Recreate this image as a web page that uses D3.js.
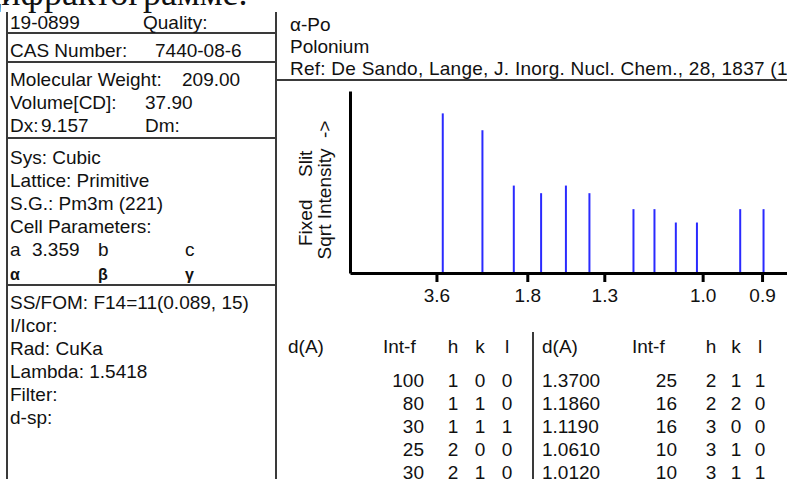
<!DOCTYPE html>
<html><head><meta charset="utf-8">
<script src="https://cdn.jsdelivr.net/npm/d3@7"></script>
<style>
body{margin:0;background:#fff;overflow:hidden}
svg{display:block}
text{font-family:"Liberation Sans",Arial,sans-serif;fill:#111}
</style></head>
<body><svg id="c" width="787" height="479"></svg>
<script>
// ---- data ----
const headerCaption = "дифрактограмме.";
const cardNumber = "19-0899";
const casNumber = "7440-08-6";
const molWeight = "209.00";
const volumeCD = "37.90";
const dx = "9.157";
const symmetryLines = ["Sys: Cubic", "Lattice: Primitive", "S.G.: Pm3m (221)", "Cell Parameters:"];
const cellA = "3.359";
const expLines = ["SS/FOM: F14=11(0.089, 15)", "I/Icor:", "Rad: CuKa", "Lambda: 1.5418", "Filter:", "d-sp:"];
const titleLines = ["α-Po", "Polonium", "Ref: De Sando, Lange, J. Inorg. Nucl. Chem., 28, 1837 (1966)"];
const wavelength = 1.5418;
const dSpacing = [3.359, 2.375, 1.939, 1.679, 1.502, 1.370, 1.186, 1.119, 1.061, 1.012, 0.932, 0.898];
const intensity = [100, 80, 30, 25, 30, 25, 16, 16, 10, 10, 16, 16];
const tickD = [3.6, 1.8, 1.3, 1.0, 0.9];
const tickLabels = ["3.6", "1.8", "1.3", "1.0", "0.9"];
const tableLeftD = ["", "", "", "", ""];
const tableLeftI = [100, 80, 30, 25, 30];
const tableLeftHKL = [[1,0,0],[1,1,0],[1,1,1],[2,0,0],[2,1,0]];
const tableRightD = ["1.3700", "1.1860", "1.1190", "1.0610", "1.0120"];
const tableRightI = [25, 16, 16, 10, 10];
const tableRightHKL = [[2,1,1],[2,2,0],[3,0,0],[3,1,0],[3,1,1]];

// ---- drawing ----
const svg = d3.select("#c");
const lineCol = "#3a3a3a";
const fs = 19;

// clipped caption at very top
svg.append("text").attr("x", -17).attr("y", 5)
  .style("font-family", "'Liberation Serif','Times New Roman',serif")
  .style("font-size", "36px").text(headerCaption);

// frame lines
const hl = (x1, x2, y) => svg.append("line").attr("x1", x1).attr("x2", x2).attr("y1", y).attr("y2", y)
  .attr("stroke", lineCol).attr("stroke-width", 2);
const vl = (x, y1, y2) => svg.append("line").attr("x1", x).attr("x2", x).attr("y1", y1).attr("y2", y2)
  .attr("stroke", lineCol).attr("stroke-width", 2);
vl(7, 12, 479);
vl(276, 12, 479);
[33, 62, 138, 285].forEach(y => hl(7, 276, y));
hl(276, 787, 80);
vl(533, 332, 479);

const t = (x, y, s, opts = {}) => {
  const e = svg.append("text").attr("x", x).attr("y", y).style("font-size", (opts.size || fs) + "px").text(s);
  if (opts.anchor) e.attr("text-anchor", opts.anchor);
  if (opts.weight) e.style("font-weight", opts.weight);
  if (opts.ls) e.style("letter-spacing", opts.ls + "px");
  return e;
};

// left panel
t(10, 29, cardNumber); t(143, 29, "Quality:");
t(10, 57, "CAS Number:"); t(155, 57, casNumber);
t(10, 86, "Molecular Weight:"); t(182, 86, molWeight);
t(10, 109, "Volume[CD]:"); t(145, 109, volumeCD);
t(10, 132, "Dx:"); t(41, 132, dx); t(145, 132, "Dm:");
symmetryLines.forEach((s, i) => t(10, 164 + i * 23, s));
t(10, 256, "a"); t(32, 256, cellA); t(98, 256, "b"); t(185, 256, "c");
t(10, 280, "α", {size: 16, weight: "bold"}); t(98, 280, "β", {size: 16, weight: "bold"}); t(185, 280, "γ", {size: 16, weight: "bold"});
expLines.forEach((s, i) => t(10, 309 + i * 23, s));

// right header
titleLines.forEach((s, i) => t(290, 31 + i * 22, s, i === 2 ? {ls: 0.25} : {}));

// plot
const twoTheta = d => 2 * Math.asin(wavelength / (2 * d)) * 180 / Math.PI;
const x = d3.scaleLinear().domain([0, 125]).range([350, 787]);
const y = d3.scaleSqrt().domain([0, 130]).range([273, 91]);

svg.append("g").selectAll("line").data(dSpacing).join("line")
  .attr("x1", d => x(twoTheta(d))).attr("x2", d => x(twoTheta(d)))
  .attr("y1", y(0)).attr("y2", (d, i) => y(intensity[i]))
  .attr("stroke", "#2a2aff").attr("stroke-width", 2);

const xAxis = svg.append("g").attr("transform", `translate(0,${y(0)})`)
  .call(d3.axisBottom(x).tickValues(tickD.map(twoTheta)).tickFormat((d, i) => tickLabels[i])
    .tickSize(9).tickSizeOuter(0).tickPadding(7));
xAxis.select(".domain").attr("stroke", "#000").attr("stroke-width", 3);
xAxis.selectAll(".tick line").attr("stroke", "#000").attr("stroke-width", 3);
xAxis.selectAll(".tick text").style("font-size", fs + "px").style("font-family", "'Liberation Sans',Arial,sans-serif").attr("fill", "#111");

const yAxis = svg.append("g").attr("transform", `translate(${x(0)},0)`)
  .call(d3.axisLeft(y).tickValues([]).tickSizeOuter(0));
yAxis.select(".domain").attr("stroke", "#000").attr("stroke-width", 3);

// y label
const yl = svg.append("g");
yl.append("text").attr("transform", "translate(312,246) rotate(-90)").style("font-size", fs + "px").text("Fixed");
yl.append("text").attr("transform", "translate(312,177) rotate(-90)").style("font-size", fs + "px").text("Slit");
yl.append("text").attr("transform", "translate(331,190) rotate(-90)").attr("text-anchor", "middle")
  .style("font-size", fs + "px").attr("xml:space", "preserve").text("Sqrt Intensity  ->");

// table
const hdrY = 353, row0 = 387, rowH = 23;
const drawBlock = (o) => {
  t(o.dx, hdrY, "d(A)"); t(o.ix, hdrY, "Int-f");
  t(o.hx, hdrY, "h", {anchor: "middle"}); t(o.kx, hdrY, "k", {anchor: "middle"}); t(o.lx, hdrY, "l", {anchor: "middle"});
  o.dv.forEach((d, i) => {
    const yy = row0 + i * rowH;
    if (d) t(o.dx, yy, d);
    t(o.ir, yy, String(o.iv[i]), {anchor: "end"});
    t(o.hx, yy, String(o.hkl[i][0]), {anchor: "middle"});
    t(o.kx, yy, String(o.hkl[i][1]), {anchor: "middle"});
    t(o.lx, yy, String(o.hkl[i][2]), {anchor: "middle"});
  });
};
drawBlock({dx: 288, ix: 383, ir: 424, hx: 453, kx: 480, lx: 507, dv: tableLeftD, iv: tableLeftI, hkl: tableLeftHKL});
drawBlock({dx: 542, ix: 632, ir: 677, hx: 711, kx: 736, lx: 760, dv: tableRightD, iv: tableRightI, hkl: tableRightHKL});
</script></body></html>
